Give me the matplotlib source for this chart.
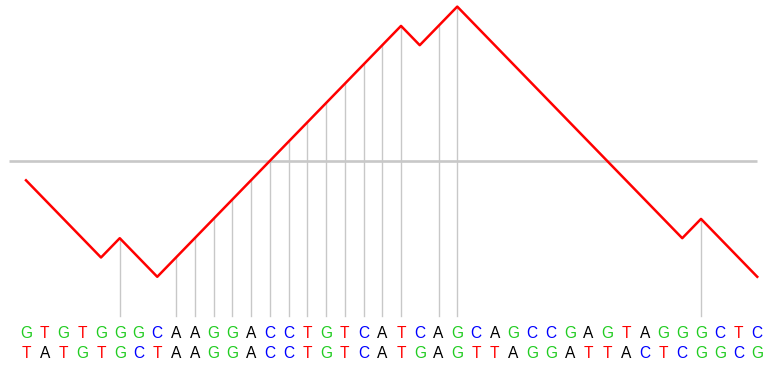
import matplotlib
matplotlib.use("Agg")
import matplotlib.pyplot as plt

top_seq = list("GTGTGGGCAAGGACCTGTCATCAGCAGCCGAGTAGGGCTC")
bottom_seq = list("TATGTGCTAAGGACCTGTCATGAGTTAGGATTACTCGGCG")
walk = [-1, -2, -3, -4, -5, -4, -5, -6,
        -5, -4, -3, -2, -1, 0, 1, 2, 3, 4, 5, 6, 7,
        6, 7, 8,
        7, 6, 5, 4, 3, 2, 1, 0, -1, -2, -3, -4,
        -3, -4, -5, -6]
match_idx = [i for i, (a, b) in enumerate(zip(top_seq, bottom_seq)) if a == b]

colors = {"G": "#22cc22", "T": "#ff0000", "C": "#0000ff", "A": "#000000"}

W, H = 765, 371
fig = plt.figure(figsize=(W / 100, H / 100), dpi=100)
ax = fig.add_axes([0, 0, 1, 1])
x0, dx = 26.0, 18.75
y0, dy = 161.0, 19.3
ax.set_xlim(-x0 / dx, (W - x0) / dx)
ax.set_ylim((y0 - H) / dy, y0 / dy)
ax.axis("off")

xs = list(range(len(walk)))
ax.plot([-0.9, 39.0], [0, 0], color="#c8c8c8", lw=1.9, solid_capstyle="butt", zorder=1)
for i in match_idx:
    ax.plot([i, i], [walk[i], -8.05], color="#c8c8c8", lw=1.0, zorder=1)
ax.plot(xs, walk, color="#ff0000", lw=1.8, zorder=2)

for i, (a, b) in enumerate(zip(top_seq, bottom_seq)):
    ax.text(i, (y0 - 334.0) / dy, a, color=colors[a], ha="center", va="center",
            fontsize=11.2, family="Liberation Sans")
    ax.text(i, (y0 - 354.0) / dy, b, color=colors[b], ha="center", va="center",
            fontsize=11.2, family="Liberation Sans")

fig.savefig("out.png", dpi=100)
